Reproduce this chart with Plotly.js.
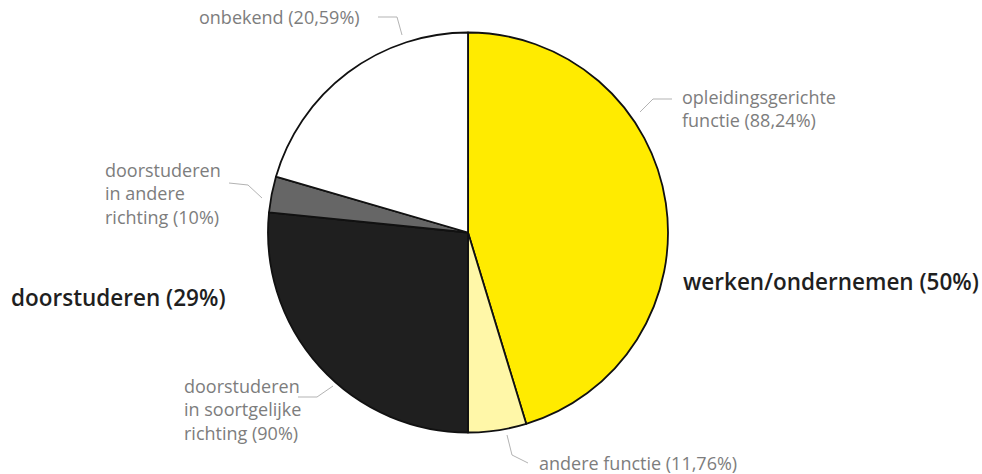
<!DOCTYPE html>
<html>
<head>
<meta charset="utf-8">
<script src="https://cdn.plot.ly/plotly-3.0.1.min.js"></script>
<style>
  html, body { margin: 0; padding: 0; background: #fff; }
  #chart { width: 982px; height: 474px; }
</style>
</head>
<body>
<div id="chart"></div>
<script>
// slices, clockwise from 12 o'clock (share of the whole circle)
const sliceNames = [
    "opleidingsgerichte functie",
    "andere functie",
    "doorstuderen in soortgelijke richting",
    "doorstuderen in andere richting",
    "onbekend"
];
const sliceValues = [45.3, 4.7, 26.6, 2.9, 20.5];
const sliceColors = ["#ffeb00", "#fff7a8", "#1f1f1f", "#666666", "#ffffff"];

// label texts
const sliceLabels = [
    "opleidingsgerichte<br>functie (88,24%)",
    "andere functie (11,76%)",
    "doorstuderen<br>in soortgelijke<br>richting (90%)",
    "doorstuderen<br>in andere<br>richting (10%)",
    "onbekend (20,59%)"
];
const groupLabels = ["werken/ondernemen (50%)", "doorstuderen (29%)"];

const W = 982, H = 474;
const px = x => x / W;
const py = y => 1 - y / H;

// pie placement: centre (468, 232.5), radius 200
const cx = 468, cy = 232.5, r = 200;

// label anchor points (pixels) and leader polylines, text side first
const labelPos = [
    [680, 108],
    [537, 463],
    [182, 409],
    [103, 193],
    [197, 17]
];
const leaders = [
    [[672, 99], [653, 99], [640, 112]],
    [[528, 463], [512, 455], [507, 435]],
    [[298, 397], [317, 397], [333, 386]],
    [[229, 183], [248, 185], [262, 198]],
    [[378, 17], [397, 17], [402, 35]]
];

const greyFont = { family: "Open Sans, sans-serif", size: 18, color: "#7d7d7d" };
const boldFont = { family: "Open Sans, sans-serif", size: 22.5, color: "#1f1f1f", weight: 600 };

const annotations = sliceLabels.map((t, i) => ({
    text: t,
    x: px(labelPos[i][0]),
    y: py(labelPos[i][1]),
    xref: "paper", yref: "paper",
    xanchor: "left", yanchor: "middle", align: "left",
    showarrow: false,
    font: greyFont
}));
annotations.push({
    text: groupLabels[0], x: px(681), y: py(281), xref: "paper", yref: "paper",
    xanchor: "left", yanchor: "middle", showarrow: false, font: boldFont
});
annotations.push({
    text: groupLabels[1], x: px(9), y: py(297), xref: "paper", yref: "paper",
    xanchor: "left", yanchor: "middle", showarrow: false, font: boldFont
});

const shapes = leaders.map(pts => ({
    type: "path",
    xref: "paper", yref: "paper",
    path: "M" + pts.map(p => px(p[0]) + "," + py(p[1])).join(" L"),
    line: { color: "#b3b3b3", width: 1 }
}));

const data = [{
    type: "pie",
    labels: sliceNames,
    values: sliceValues,
    sort: false,
    direction: "clockwise",
    rotation: 0,
    textinfo: "none",
    hoverinfo: "label+percent",
    marker: {
        colors: sliceColors,
        line: { color: "#111111", width: 1.8 }
    },
    domain: {
        x: [px(cx - r), px(cx + r)],
        y: [py(cy + r), py(cy - r)]
    }
}];

const layout = {
    width: W,
    height: H,
    margin: { l: 0, r: 0, t: 0, b: 0 },
    showlegend: false,
    paper_bgcolor: "#ffffff",
    annotations: annotations,
    shapes: shapes
};

Plotly.newPlot("chart", data, layout, { displayModeBar: false });
</script>
</body>
</html>
